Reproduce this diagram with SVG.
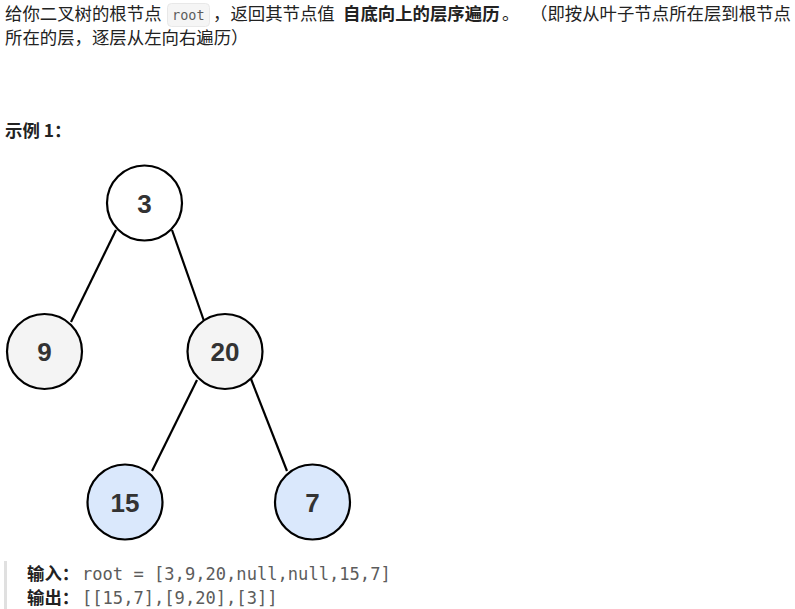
<svg xmlns="http://www.w3.org/2000/svg" width="795" height="609" viewBox="0 0 795 609">
<style>
.t{font-family:"Noto Sans CJK SC","Noto Sans",sans-serif;font-size:17.4px;fill:#222}
.b{font-weight:bold}
.m{font-family:"DejaVu Sans Mono","Liberation Mono",monospace;fill:#5c5c5c}
.n circle{stroke:#000;stroke-width:2.2}
.n text{font-family:"Liberation Sans",Arial,sans-serif;font-weight:bold;font-size:26px;fill:#333;text-anchor:middle}
.e line{stroke:#000;stroke-width:2.2}
</style>
<rect width="795" height="609" fill="#fff"/>
<g id="desc">
<text class="t" x="5" y="20">给你二叉树的根节点</text>
<rect x="167.5" y="3.5" width="42" height="23" rx="4" fill="#f5f5f5" stroke="#e8e8e8"/>
<text class="m" x="172" y="20" font-size="13.5">root</text>
<text class="t" x="213" y="20">，返回其节点值</text>
<text class="t b" x="343" y="20">自底向上的层序遍历</text>
<text class="t" x="502" y="20">。</text>
<text class="t" x="530" y="20">（即按从叶子节点所在层到根节点</text>
<text class="t" x="5" y="44">所在的层，逐层从左向右遍历）</text>
<text class="t b" x="5" y="137">示例 1：</text>
</g>
<g id="connectors" class="e">
<line x1="116" y1="230" x2="71" y2="322"/>
<line x1="172" y1="230" x2="204" y2="321"/>
<line x1="197" y1="380" x2="152" y2="471"/>
<line x1="251" y1="379" x2="287" y2="471"/>
</g>
<g id="node3" class="n"><circle cx="144.5" cy="203" r="37.5" fill="#fff"/><text x="144.5" y="213">3</text></g>
<g id="node9" class="n"><circle cx="44.5" cy="351.5" r="37.5" fill="#f4f4f4"/><text x="44.5" y="361">9</text></g>
<g id="node20" class="n"><circle cx="225" cy="351.5" r="37.5" fill="#f4f4f4"/><text x="225" y="361">20</text></g>
<g id="node15" class="n"><circle cx="125" cy="502" r="37.5" fill="#dae8fc"/><text x="125" y="511.5">15</text></g>
<g id="node7" class="n"><circle cx="312.5" cy="502" r="37.5" fill="#dae8fc"/><text x="312.5" y="511.5">7</text></g>
<g id="example">
<rect x="4" y="561" width="3" height="48" fill="#e0e0e0"/>
<text class="t b" x="27" y="580">输入：</text>
<text class="m" x="82" y="580" font-size="17.1">root = [3,9,20,null,null,15,7]</text>
<text class="t b" x="27" y="604">输出：</text>
<text class="m" x="82" y="604" font-size="17.1">[[15,7],[9,20],[3]]</text>
</g>
</svg>
